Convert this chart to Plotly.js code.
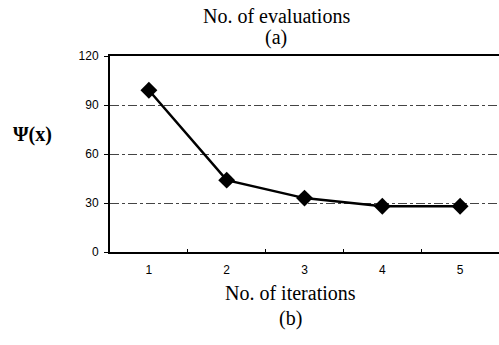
<!DOCTYPE html>
<html>
<head>
<meta charset="utf-8">
<script src="https://cdn.plot.ly/plotly-3.0.1.min.js"></script>
<style>html,body{margin:0;padding:0;background:#fff;}#chart{width:499px;height:345px;}</style>
</head>
<body>
<div id="chart"></div>
<script>
const iterations = ["1", "2", "3", "4", "5"];
const psiValues = [99, 44, 33, 28, 28];
const yTickVals = [0, 30, 60, 90, 120];

const L = 110, T = 56, B = 93, W = 499, H = 345;
const pw = W - L, ph = H - T - B;
function px(x) { return (x - L) / pw; }
function py(y) { return (H - B - y) / ph; }

const serif = "Liberation Serif";

const trace = {
  x: iterations,
  y: psiValues,
  type: "scatter",
  mode: "lines+markers",
  line: {color: "#000", width: 2.5},
  marker: {symbol: "diamond", size: 13, color: "#000"},
  cliponaxis: false,
  showlegend: false
};

const layout = {
  width: W, height: H,
  margin: {l: L, r: 0, t: T, b: B, pad: 0},
  paper_bgcolor: "#fff",
  plot_bgcolor: "#fff",
  font: {family: "Liberation Sans", size: 12, color: "#000"},
  xaxis: {
    type: "category",
    range: [-0.5, 4.5],
    showgrid: false,
    zeroline: false,
    showline: true,
    linecolor: "#000",
    linewidth: 2,
    mirror: true,
    ticks: "inside",
    tickson: "boundaries",
    ticklen: 3,
    tickcolor: "#000",
    ticklabelstandoff: 6,
    tickfont: {size: 12}
  },
  yaxis: {
    range: [0, 120],
    tickvals: yTickVals,
    showgrid: true,
    gridcolor: "#444",
    griddash: "dashdot",
    gridwidth: 1,
    zeroline: false,
    showline: true,
    linecolor: "#000",
    linewidth: 2,
    ticks: "outside",
    ticklen: 4,
    tickcolor: "#000",
    ticklabelstandoff: 3,
    tickfont: {size: 12}
  },
  annotations: [
    {text: "No. of evaluations", xref: "paper", yref: "paper", x: px(276), y: py(16), showarrow: false, font: {family: serif, size: 20}, xanchor: "center", yanchor: "middle"},
    {text: "(a)", xref: "paper", yref: "paper", x: px(276), y: py(37), showarrow: false, font: {family: serif, size: 20}, xanchor: "center", yanchor: "middle"},
    {text: "<b>Ψ(x)</b>", xref: "paper", yref: "paper", x: px(32), y: py(134), showarrow: false, font: {family: serif, size: 20}, xanchor: "center", yanchor: "middle"},
    {text: "No. of iterations", xref: "paper", yref: "paper", x: px(290), y: py(293), showarrow: false, font: {family: serif, size: 20}, xanchor: "center", yanchor: "middle"},
    {text: "(b)", xref: "paper", yref: "paper", x: px(290), y: py(318), showarrow: false, font: {family: serif, size: 20}, xanchor: "center", yanchor: "middle"}
  ]
};

Plotly.newPlot("chart", [trace], layout, {staticPlot: true, displayModeBar: false});
</script>
</body>
</html>
